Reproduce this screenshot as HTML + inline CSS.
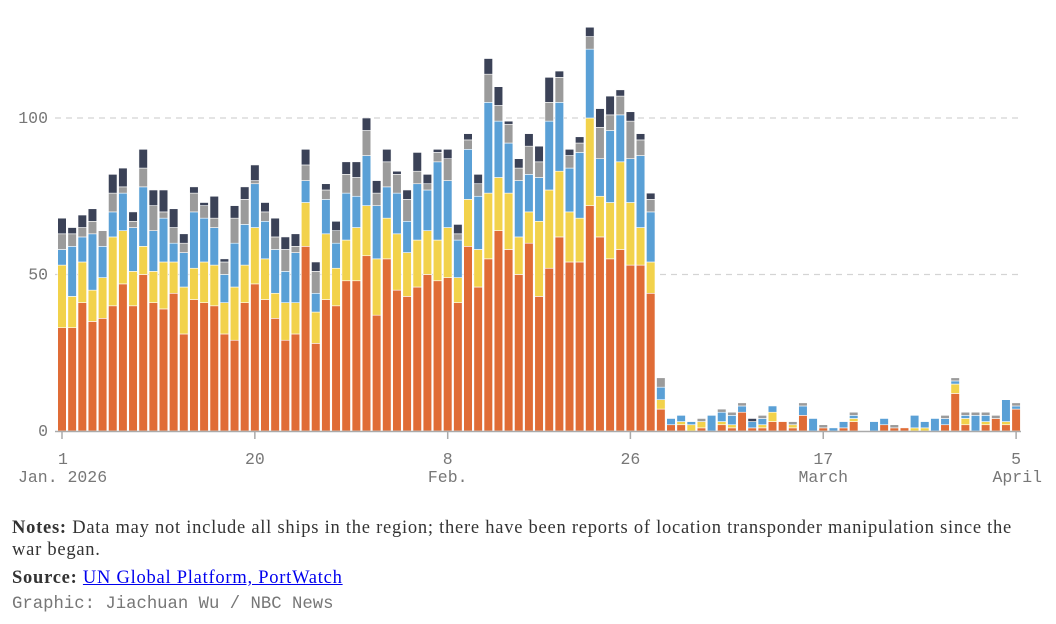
<!DOCTYPE html>
<html><head><meta charset="utf-8"><style>
body{margin:0;background:#fff;width:1056px;height:624px;overflow:hidden;position:relative}
.n{position:absolute;left:12px;font-family:"Liberation Serif",serif;font-size:18.5px;letter-spacing:0.75px;color:#333;line-height:22px}
.g{position:absolute;left:12px;top:595px;font-family:"Liberation Mono",monospace;font-size:17.3px;color:#777}
a{color:#0000ee}
</style></head><body>
<svg width="1056" height="500" style="position:absolute;left:0;top:0" id="chart"></svg>
<div class="n" style="top:517px;width:1030px"><b>Notes:</b> Data may not include all ships in the region; there have been reports of location transponder manipulation since the war began.</div>
<div class="n" style="top:567px"><b>Source:</b> <a href="#">UN Global Platform, PortWatch</a></div>
<div class="g">Graphic: Jiachuan Wu / NBC News</div>
<script>
const orange=[33,33,41,35,36,40,47,40,50,41,39,44,31,42,41,40,31,29,41,47,42,36,29,31,59,28,42,40,48,48,56,37,55,45,43,46,50,48,49,41,59,46,55,64,58,50,60,43,52,62,54,54,72,62,55,58,53,53,44,7,2,2,0,1,0,2,1,6,1,1,3,3,1,5,0,1,0,1,3,0,0,2,1,1,0,0,0,2,12,2,0,2,4,2,7];
const yellow=[20,10,13,10,13,22,17,11,9,10,15,10,15,10,13,13,10,17,12,18,13,8,12,10,14,10,21,12,13,17,16,18,13,18,14,15,14,13,16,8,15,12,21,17,18,12,10,24,25,21,16,14,28,13,18,28,20,12,10,3,0,1,2,2,0,1,1,0,0,1,3,0,1,0,0,0,0,0,1,0,0,0,0,0,1,1,0,0,3,2,0,1,0,1,0];
const blue=[5,16,8,18,10,8,12,14,19,13,14,6,11,18,14,12,9,14,13,14,12,14,10,16,7,6,11,8,15,10,16,17,10,13,10,18,13,25,15,12,16,17,29,18,16,18,12,14,22,22,14,21,22,12,23,15,14,23,16,4,2,2,1,0,5,3,3,2,2,2,2,0,0,3,4,0,1,2,1,0,3,2,0,0,4,2,4,2,1,1,5,2,0,7,1];
const gray=[5,4,3,4,5,6,2,2,6,8,2,5,3,6,4,3,4,8,8,1,3,4,7,2,5,7,3,4,6,6,8,4,8,6,7,4,2,3,7,2,3,4,9,5,6,4,9,5,6,8,4,3,4,10,5,6,12,5,4,3,0,0,0,1,0,1,1,1,0,1,0,0,1,1,0,1,0,0,1,0,0,0,1,0,0,0,0,1,1,1,1,1,1,0,1];
const dark=[5,2,4,4,0,6,6,3,6,5,7,6,3,2,1,7,1,4,4,5,3,6,4,4,5,3,2,3,4,5,4,4,4,1,3,6,3,1,3,3,2,3,5,6,1,3,4,5,8,2,2,2,3,6,6,2,3,2,2,0,0,0,0,0,0,0,0,0,1,0,0,0,0,0,0,0,0,0,0,0,0,0,0,0,0,0,0,0,0,0,0,0,0,0,0];
const series=[orange,yellow,blue,gray,dark];
const seriesNames=['orange','yellow','blue','gray','dark'];
const colors=['#e06c36','#f2d24b','#5aa0d6','#9b9b9b','#3b4257'];
const yTicks=[0,50,100];
const xTickIdx=[0,19,38,56,75,94];
const xTickTop=['1','20','8','26','17','5'];
const xTickBot=['Jan. 2026','','Feb.','','March','April'];
const NS='http://www.w3.org/2000/svg';
const svg=document.getElementById('chart');
const y=v=>431-v*3.13, x=i=>62+i*10.15;
function mk(t,a){const e=document.createElementNS(NS,t);for(const k in a)e.setAttribute(k,a[k]);svg.appendChild(e);return e;}
yTicks.forEach(v=>{
 if(v>0){const l=mk('line',{x1:55,x2:1020,y1:y(v),y2:y(v),stroke:'#d4d4d4','stroke-dasharray':'6,5','stroke-width':1.3});
 
 }
 const t=mk('text',{x:48,y:y(v)+5,'text-anchor':'end','font-family':'Liberation Mono,monospace','font-size':16.5,fill:'#777'});
 t.textContent=v;
 
 
});
for(let i=0;i<orange.length;i++){let c=0;
 series.forEach((s,k)=>{if(s[i]>0){const r=mk('rect',{x:x(i)-4.3,width:8.6,y:y(c+s[i]),height:s[i]*3.13,fill:colors[k],stroke:'#fff','stroke-width':0.6});
 
 }c+=s[i];});}
const ax=mk('line',{x1:55,x2:1021,y1:431.5,y2:431.5,stroke:'#aaa','stroke-width':1.5});


xTickIdx.forEach((d,j)=>{
 const tk=mk('line',{x1:x(d),x2:x(d),y1:431,y2:439,stroke:'#aaa','stroke-width':1.5});
 
 
 const anchor=j==0?'start':'middle';const xx=j==0?x(d)-4:x(d);
 const t=mk('text',{x:xx,y:464,'text-anchor':anchor,'font-family':'Liberation Mono,monospace','font-size':16.5,fill:'#777'});
 t.textContent=xTickTop[j];
 
 
 if(xTickBot[j]){const b=mk('text',{x:j==0?18:(j==5?1042:x(d)),y:482,'text-anchor':j==0?'start':(j==5?'end':'middle'),'font-family':'Liberation Mono,monospace','font-size':16.5,fill:'#777'});
 b.textContent=xTickBot[j];
 
 }
});
</script>
</body></html>
